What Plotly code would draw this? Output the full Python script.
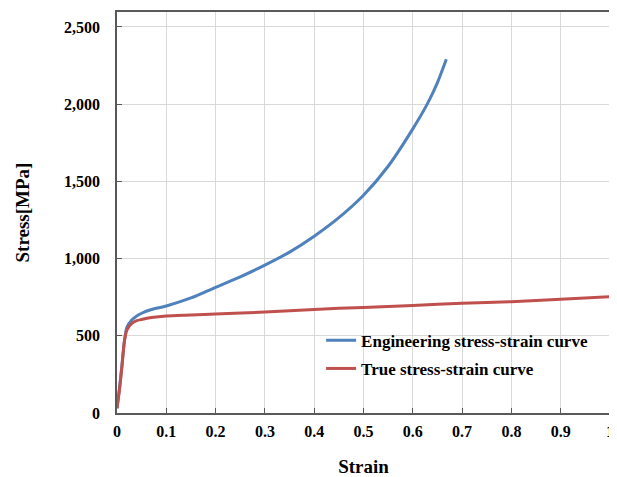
import plotly.graph_objects as go

eng_strain = [0, 0.005, 0.01, 0.015, 0.02, 0.03, 0.04, 0.05, 0.07, 0.1, 0.15, 0.2, 0.25,
              0.3, 0.35, 0.4, 0.45, 0.5, 0.55, 0.6, 0.63, 0.65, 0.668]
eng_stress = [30, 160, 310, 465, 555, 602, 628, 646, 670, 693, 745, 814, 882,
              958, 1042, 1145, 1265, 1410, 1598, 1840, 2005, 2140, 2291]

true_strain = [0, 0.005, 0.01, 0.015, 0.02, 0.03, 0.04, 0.05, 0.07, 0.1, 0.15, 0.2,
               0.3, 0.4, 0.5, 0.6, 0.7, 0.8, 0.9, 1.0]
true_stress = [30, 150, 300, 465, 537, 580, 598, 606, 618, 628, 634, 641,
               654, 671, 684, 697, 710, 721, 736, 753]

x_ticks = [0, 0.1, 0.2, 0.3, 0.4, 0.5, 0.6, 0.7, 0.8, 0.9, 1]
y_ticks = [0, 500, 1000, 1500, 2000, 2500]

FONT = "Liberation Serif"

fig = go.Figure()
fig.add_trace(go.Scatter(x=eng_strain, y=eng_stress, mode="lines",
                         name="Engineering stress-strain curve", showlegend=True,
                         line=dict(color="#4F81BD", width=3, shape="spline", smoothing=0.7),
                         legend="legend"))
fig.add_trace(go.Scatter(x=true_strain, y=true_stress, mode="lines",
                         name="True stress-strain curve", showlegend=True,
                         line=dict(color="#C0504D", width=3, shape="spline", smoothing=0.7),
                         legend="legend2"))

legend_common = dict(bgcolor="rgba(0,0,0,0)", borderwidth=0,
                     font=dict(family=FONT, size=17, color="#000000", weight="bold"),
                     xanchor="left", yanchor="middle", itemwidth=30)

fig.update_layout(
    width=609, height=469,
    margin=dict(l=109, r=7, t=4, b=64),
    showlegend=True,
    paper_bgcolor="white", plot_bgcolor="white",
    font=dict(family=FONT, size=16, color="#000000"),
    legend=dict(x=0.414, y=0.18, **legend_common),
    legend2=dict(x=0.414, y=0.11, **legend_common),
    xaxis=dict(range=[0, 1], tickvals=x_ticks, ticktext=[str(v) for v in x_ticks],
               automargin=False, ticklabeloverflow="allow", ticklabelstandoff=3,
               showgrid=True, gridcolor="#D9D9D9", gridwidth=1,
               showline=True, linecolor="#595959", linewidth=1.5, mirror=True,
               ticks="inside", ticklen=5, tickcolor="#595959",
               tickfont=dict(family=FONT, size=16, color="#000000", weight="bold"),
               title=dict(text="<b>Strain</b>", font=dict(family=FONT, size=19), standoff=22),
               zeroline=False),
    yaxis=dict(range=[0, 2597], tickvals=y_ticks, tickformat=",d",
               automargin=False, ticklabeloverflow="allow",
               showgrid=True, gridcolor="#D9D9D9", gridwidth=1,
               showline=True, linecolor="#595959", linewidth=1.5, mirror=True,
               ticks="inside", ticklen=5, tickcolor="#595959",
               ticklabelstandoff=12,
               tickfont=dict(family=FONT, size=16, color="#000000", weight="bold"),
               title=dict(text="<b>Stress[MPa]</b>", font=dict(family=FONT, size=19), standoff=29),
               zeroline=False),
)

fig.write_html("out.html")
